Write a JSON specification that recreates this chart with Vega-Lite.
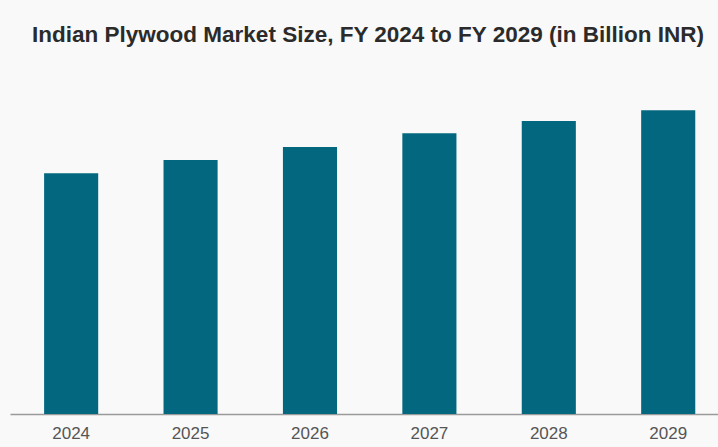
{
  "$schema": "https://vega.github.io/schema/vega-lite/v6.json",
  "width": 708,
  "height": 354,
  "autosize": {"type": "none"},
  "padding": {"left": 10, "top": 60, "right": 0, "bottom": 33},
  "background": "#f9f9f9",
  "title": {
    "text": "Indian Plywood Market Size, FY 2024 to FY 2029 (in Billion INR)",
    "font": "Liberation Sans",
    "fontSize": 22.5,
    "fontWeight": "bold",
    "color": "#2b2b2b",
    "anchor": "middle",
    "dx": 4,
    "offset": 14
  },
  "data": {
    "values": [
      {"year": "2024", "value": 240.7},
      {"year": "2025", "value": 254},
      {"year": "2026", "value": 267},
      {"year": "2027", "value": 280.7},
      {"year": "2028", "value": 293},
      {"year": "2029", "value": 303.7}
    ]
  },
  "mark": {"type": "bar", "color": "#03687f"},
  "encoding": {
    "x": {
      "field": "year",
      "type": "ordinal",
      "scale": {"paddingInner": 0.547, "paddingOuter": 0.238, "align": 0.6},
      "axis": {
        "title": null,
        "labelAngle": 0,
        "ticks": false,
        "labelFont": "Liberation Sans",
        "labelFontSize": 17,
        "labelColor": "#555555",
        "labelPadding": 11,
        "domainColor": "#9a9a9a",
        "domainWidth": 1.5
      }
    },
    "y": {
      "field": "value",
      "type": "quantitative",
      "scale": {"domain": [0, 354]},
      "axis": null
    }
  },
  "config": {"view": {"stroke": null}}
}
